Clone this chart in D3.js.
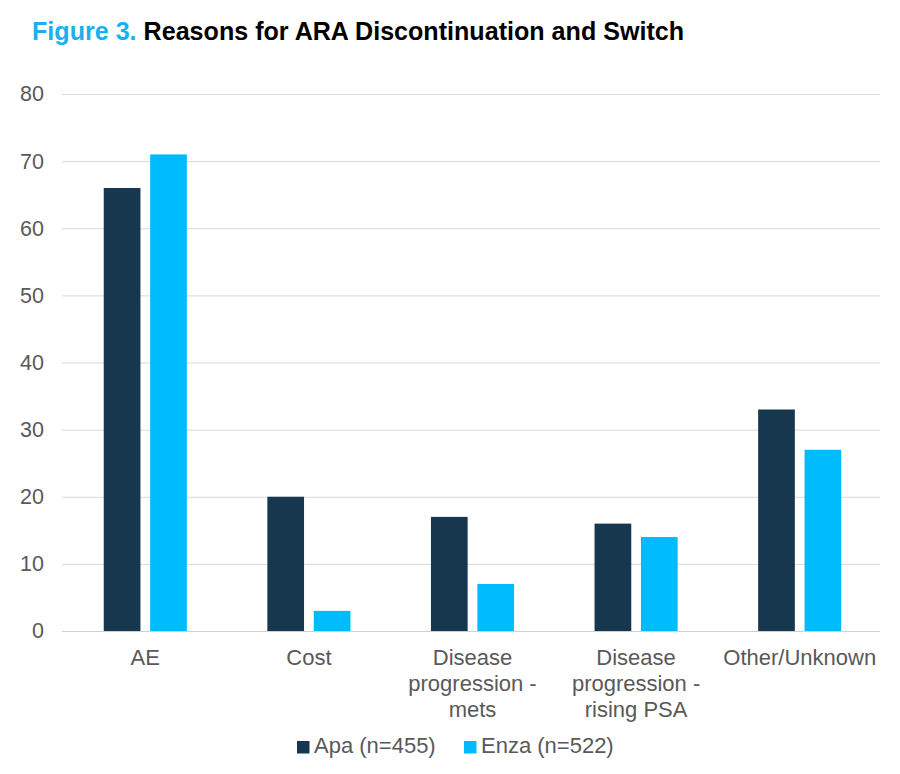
<!DOCTYPE html>
<html><head><meta charset="utf-8">
<script src="https://cdn.jsdelivr.net/npm/d3@7"></script>
<style>body{margin:0;background:#fff;} svg{display:block;font-family:"Liberation Sans",Arial,sans-serif;}</style>
</head><body>
<svg id="chart" width="900" height="774"></svg>
<script>
const categories = [["AE"],["Cost"],["Disease","progression -","mets"],["Disease","progression -","rising PSA"],["Other/Unknown"]];
const seriesNames = ["Apa (n=455)","Enza (n=522)"];
const apa = [66,20,17,16,33];
const enza = [71,3,7,14,27];
const yTicks = [0,10,20,30,40,50,60,70,80];
const colors = ["#17374F","#00BCFF"];

(function(){
const svg = d3.select("#chart");
const pL = 62, pR = 880, pT = 94, pB = 631;
const x = d3.scaleBand().domain(d3.range(categories.length)).range([pL,pR]).paddingInner(0).paddingOuter(0);
const y = d3.scaleLinear().domain([0,80]).range([pB, pT]);

// title
const t = svg.append("text").attr("x",32).attr("y",40).attr("font-size",25.1).attr("font-weight","bold");
t.append("tspan").attr("fill","#1AB0F0").text("Figure 3. ");
t.append("tspan").attr("fill","#000").text("Reasons for ARA Discontinuation and Switch");

// gridlines
svg.append("g").selectAll("line").data(yTicks).join("line")
  .attr("x1",pL).attr("x2",pR).attr("y1",d=>y(d)+0.5).attr("y2",d=>y(d)+0.5)
  .attr("stroke",d=>d===0?"#d0d0d0":"#d9d9d9").attr("stroke-width",1);

// y labels
const yAxis = d3.axisLeft(y).tickValues(yTicks).tickSize(0).tickPadding(0);
const ga = svg.append("g").attr("transform",`translate(44,0)`).call(yAxis);
ga.select(".domain").remove();
ga.selectAll("text").attr("font-size",21.5).attr("fill","#595959").attr("font-family","Liberation Sans, Arial, sans-serif");

// bars
const bw = 36.7, gap = 9.7;
const series = [apa, enza];
series.forEach((vals,si)=>{
  svg.append("g").selectAll("rect").data(vals).join("rect")
    .attr("x",(d,i)=>x(i)+x.bandwidth()/2 - (bw+gap/2) + si*(bw+gap) + 1.5)
    .attr("width",bw)
    .attr("y",d=>y(d))
    .attr("height",d=>y(0)-y(d))
    .attr("fill",colors[si]);
});

// category labels
const cl = svg.append("g");
categories.forEach((lines,i)=>{
  const tx = cl.append("text").attr("text-anchor","middle").attr("font-size",22).attr("fill","#595959");
  lines.forEach((ln,j)=>{
    tx.append("tspan").attr("x",x(i)+x.bandwidth()/2+1.5).attr("y",665+j*26).text(ln);
  });
});

// legend
const legX = [297,464];
seriesNames.forEach((n,i)=>{
  svg.append("rect").attr("x",legX[i]).attr("y",741).attr("width",12.5).attr("height",12.5).attr("fill",colors[i]);
  svg.append("text").attr("x",legX[i]+17).attr("y",753).attr("font-size",22).attr("fill","#595959").text(n);
});
})();
</script>
</body></html>
